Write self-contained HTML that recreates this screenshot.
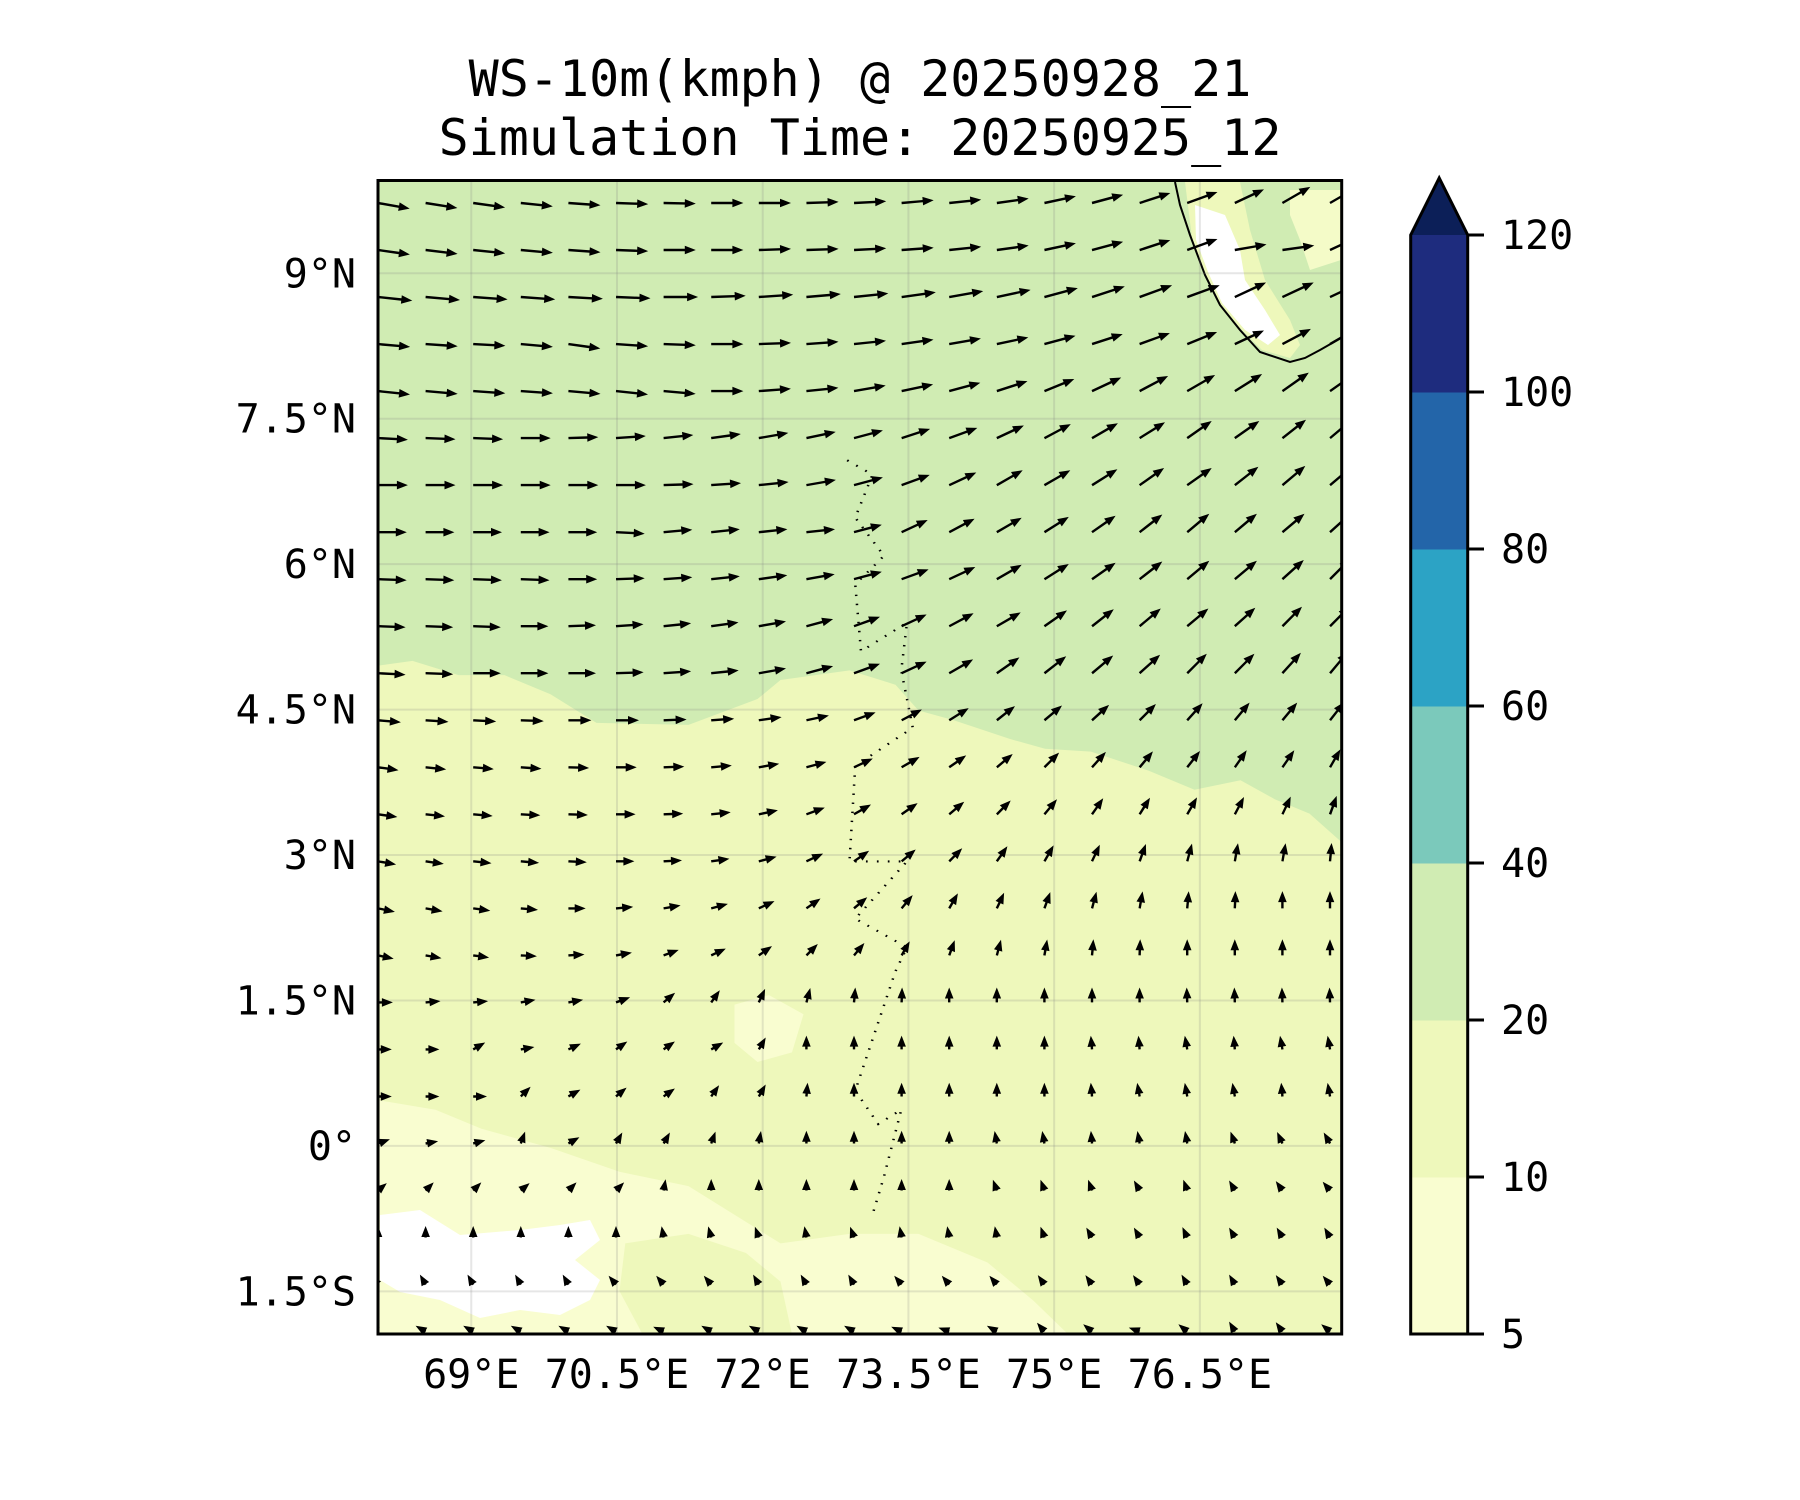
<!DOCTYPE html>
<html><head><meta charset="utf-8"><style>
html,body{margin:0;padding:0;background:#fff;}
svg{display:block;}
text{font-family:"DejaVu Sans Mono","Liberation Mono",monospace;fill:#000;}
</style></head><body>
<svg id="fig" width="1800" height="1500" viewBox="0 0 1800 1500" xmlns="http://www.w3.org/2000/svg">
<defs><clipPath id="pc"><rect x="378" y="180.5" width="963.7" height="1153.5"/></clipPath></defs>
<text x="860" y="96" font-size="50" text-anchor="middle">WS-10m(kmph) @ 20250928_21</text>
<text x="860" y="155" font-size="50" text-anchor="middle">Simulation Time: 20250925_12</text>
<g clip-path="url(#pc)">
 <rect x="378" y="180.5" width="963.7" height="1153.5" fill="#eef8bb"/>
 <g transform="matrix(1.15,0,0,0.955,-1.5,1.9)">
  <polygon fill="#d0ecb3" points="330,187 1168,187 1168,880 1140,850 1110,835 1080,815 1040,825 1000,805 950,785 910,782 880,772 830,752 800,742 780,715 740,700 680,710 660,730 600,757 520,755 480,725 440,705 400,705 360,690 330,695"/>
  <polygon fill="#f9fdd0" points="330,1150 380,1160 420,1180 480,1200 540,1225 600,1240 640,1270 680,1300 740,1290 800,1290 860,1320 900,1360 930,1395 330,1395"/>
  <polygon fill="#eef8bb" points="545,1300 600,1290 650,1310 680,1340 690,1395 560,1395 540,1350"/>
  <polygon fill="#f9fdd0" points="640,1050 670,1040 700,1060 690,1100 660,1110 640,1090"/>
  <polyline fill="none" stroke="#000" stroke-width="2.2" stroke-dasharray="1.5,8" points="738,480 760,495 745,540 770,580 745,610 750,680 790,650 785,700 795,760 745,800 740,900 790,900 745,960 790,990 780,1015 745,1140 765,1175 785,1160 770,1230 760,1270"/>
 </g>
 <polygon fill="#ffffff" points="380,1215 420,1210 460,1235 520,1230 560,1225 590,1220 600,1240 575,1260 600,1280 590,1300 560,1315 520,1310 480,1318 440,1300 400,1292 380,1280"/>
 <polygon fill="#d0ecb3" points="1175,182 1180,205 1190,235 1205,275 1220,305 1240,330 1260,352 1290,362 1305,358 1320,350 1341,338 1341,180 1175,180"/>
 <polygon fill="#eef8bb" points="1185,182 1240,182 1250,230 1265,280 1290,320 1300,345 1290,358 1262,350 1240,328 1220,303 1205,273 1192,238"/>
 <polygon fill="#ffffff" points="1195,205 1225,215 1240,250 1245,280 1265,310 1280,335 1268,345 1245,330 1222,303 1208,272 1196,240"/>
 <polygon fill="#f4fbc8" points="1290,190 1341,190 1341,260 1310,270 1300,240 1290,215"/>
 <polyline fill="none" stroke="#000" stroke-width="2" points="1175,182 1180,205 1190,235 1205,275 1220,305 1240,330 1260,352 1290,362 1305,358 1320,350 1341,338"/>
 <g id="grid"></g>
 <g id="quiver"></g>
</g>
<rect x="378" y="180.5" width="963.7" height="1153.5" fill="none" stroke="#000" stroke-width="3"/>
<g id="yticks"></g>
<g id="xticks"></g>
<g id="cbar"></g>
</svg>
<script>
const lonTicks=[69,70.5,72,73.5,75,76.5];
const lonTickLabels=["69°E","70.5°E","72°E","73.5°E","75°E","76.5°E"];
const latTicks=[9,7.5,6,4.5,3,1.5,0,-1.5];
const latTickLabels=["9°N","7.5°N","6°N","4.5°N","3°N","1.5°N","0°","1.5°S"];
const cbarLevels=[5,10,20,40,60,80,100,120];
const cbarColors=["#f9fdd0","#eef8bb","#d0ecb3","#7bc9bb","#2ca3c5","#2365a9","#1e2c7e"];
const cbarExtendColor="#0c1f58";
const gridLons=[68.04,68.53,69.02,69.51,70.0,70.49,70.98,71.47,71.96,72.45,72.94,73.43,73.92,74.41,74.9,75.39,75.88,76.37,76.86,77.35,77.84];
const gridLats=[9.725,9.24,8.755,8.27,7.785,7.3,6.815,6.33,5.845,5.36,4.875,4.39,3.905,3.42,2.935,2.45,1.965,1.48,0.995,0.51,0.025,-0.46,-0.945,-1.43,-1.915];
const rowSpeeds=[28,28,30,28,28,26,26,25,25,24,24,20,18,17,16,15,14,13,12,12,11,10,10,10,10];
const windDir=[
[-10,-9,-8,-6,-4,-2,-1,0,0,2,3,5,6,8,12,15,18,20,25,30,30],
[-8,-7,-6,-5,-4,-2,0,0,2,2,3,4,6,8,12,15,18,20,10,8,25],
[-6,-5,-4,-4,-3,-2,0,2,4,5,6,8,10,12,15,18,20,20,25,25,25],
[-5,-4,-3,-5,-8,-4,-2,0,2,4,6,8,10,12,15,18,20,22,25,28,30],
[-6,-5,-4,-4,-5,-6,-5,0,4,6,10,12,15,18,22,25,28,30,32,35,35],
[-3,-2,-2,0,2,4,6,8,10,12,15,18,20,25,28,30,32,35,35,38,40],
[0,0,0,0,0,0,2,4,6,10,15,20,25,30,30,32,35,35,38,40,40],
[0,0,0,0,0,-3,5,6,6,6,15,25,28,30,32,35,38,40,40,40,42],
[-2,-2,-2,-2,0,2,4,6,8,10,15,20,25,30,32,35,38,40,40,42,45],
[-2,-2,-2,0,2,4,6,8,10,15,20,25,28,30,35,38,40,40,42,45,45],
[-3,-2,0,0,0,2,4,6,10,15,20,25,30,35,38,40,42,45,45,48,50],
[-5,-4,-3,-2,0,0,2,4,8,12,20,28,32,38,40,42,45,48,50,50,52],
[-8,-6,-5,-4,-2,0,2,5,10,15,25,30,35,40,45,48,50,52,55,55,60],
[-8,-6,-5,-3,-2,0,2,6,12,20,30,35,40,45,50,55,58,60,62,65,70],
[-10,-8,-6,-5,-3,0,3,8,15,25,35,40,45,55,60,65,70,75,80,80,85],
[-12,-10,-8,-5,0,5,10,15,25,35,40,50,60,65,70,75,80,85,88,90,90],
[-12,-10,-8,-3,3,10,20,25,35,45,50,60,70,75,80,85,88,90,90,90,90],
[0,5,5,10,10,20,40,55,65,75,85,88,90,90,90,90,90,92,92,92,92],
[0,0,30,10,25,35,35,30,60,90,90,90,90,90,90,95,95,100,95,100,100],
[0,0,0,45,30,40,35,55,60,85,90,90,90,90,90,95,100,100,100,95,100],
[20,10,15,70,30,60,60,70,80,90,90,90,90,100,100,95,100,100,110,115,120],
[40,45,45,40,45,45,80,90,90,90,90,90,90,110,110,110,120,110,120,125,130],
[90,90,90,90,90,90,100,105,110,100,110,100,100,100,110,120,120,115,120,120,120],
[130,120,120,120,120,130,130,130,120,120,120,130,130,130,125,125,125,120,120,125,130],
[150,150,150,150,150,150,155,150,150,150,150,155,160,150,130,140,160,140,120,125,140]
];
const NS="http://www.w3.org/2000/svg";
const X0=378,X1=1341.7,Y0=180.5,Y1=1334;
const LON0=68.04,LON1=77.96,LAT0=-1.94,LAT1=9.957;
function xs(lon){return X0+(lon-LON0)/(LON1-LON0)*(X1-X0);}
function ys(lat){return Y0+(LAT1-lat)/(LAT1-LAT0)*(Y1-Y0);}
function mk(tag,attrs,parent){const e=document.createElementNS(NS,tag);for(const k in attrs)e.setAttribute(k,attrs[k]);parent.appendChild(e);return e;}
const grid=document.getElementById('grid');
lonTicks.forEach(v=>{const l=mk('line',{x1:xs(v),x2:xs(v),y1:Y0,y2:Y1,stroke:'#808080','stroke-opacity':0.2,'stroke-width':2},grid);

});
latTicks.forEach(v=>{const l=mk('line',{x1:X0,x2:X1,y1:ys(v),y2:ys(v),stroke:'#808080','stroke-opacity':0.2,'stroke-width':2},grid);

});
const yt=document.getElementById('yticks');
latTicks.forEach((v,i)=>{const t=mk('text',{x:356,y:ys(v)+14,'font-size':40,'text-anchor':'end'},yt);t.textContent=latTickLabels[i];

});
const xt=document.getElementById('xticks');
lonTicks.forEach((v,i)=>{const t=mk('text',{x:xs(v),y:1388,'font-size':40,'text-anchor':'middle'},xt);t.textContent=lonTickLabels[i];

});
const q=document.getElementById('quiver');
gridLats.forEach((lat,i)=>{gridLons.forEach((lon,k)=>{
 const L=rowSpeeds[i]*1.15,a=windDir[i][k]*Math.PI/180;
 let hl=11,hw=4.3,w=1.2;
 if(L<hl){const s=L/hl;hl*=s;hw*=s;w*=s;}
 const sl=L-hl;
 const pts=[[0,-w],[sl,-w],[sl,-hw],[L,0],[sl,hw],[sl,w],[0,w]];
 const x0=xs(lon),y0=ys(lat),c=Math.cos(a),s=Math.sin(a);
 const p=pts.map(([u,v])=>(x0+u*c+v*s).toFixed(1)+','+(y0-u*s+v*c).toFixed(1)).join(' ');
 const el=mk('polygon',{points:p,fill:'#000'},q);
 
 
});});
const cb=document.getElementById('cbar');
const CX0=1410.7,CX1=1467.7,CB=1334,CT=235;
const band=(CB-CT)/(cbarLevels.length-1);
function cy(i){return CB-i*band;}
cbarColors.forEach((c,i)=>{const r=mk('rect',{x:CX0,y:cy(i+1),width:CX1-CX0,height:band+0.5,fill:c},cb);

});
const tri=mk('polygon',{points:`${CX0},${CT} ${(CX0+CX1)/2},178 ${CX1},${CT}`,fill:cbarExtendColor},cb);


const ol=mk('polygon',{points:`${CX0},${CB} ${CX0},${CT} ${(CX0+CX1)/2},178 ${CX1},${CT} ${CX1},${CB}`,fill:'none',stroke:'#000','stroke-width':3},cb);


cbarLevels.forEach((v,i)=>{const tk=mk('line',{x1:CX1,x2:1484,y1:cy(i),y2:cy(i),stroke:'#000','stroke-width':3},cb);


const t=mk('text',{x:1501,y:cy(i)+14,'font-size':40},cb);t.textContent=v;

});
</script>
</body></html>
